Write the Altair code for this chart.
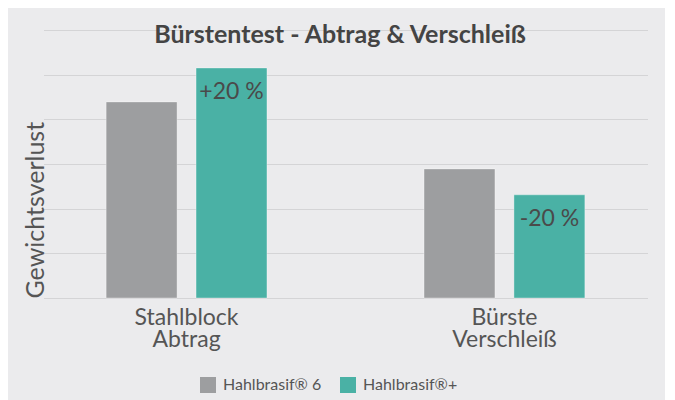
import altair as alt
import pandas as pd

categories = ["Stahlblock\nAbtrag", "Bürste\nVerschleiß"]
series = ["Hahlbrasif® 6", "Hahlbrasif®+"]
values_h6 = [4.39, 2.89]
values_plus = [5.15, 2.31]
change_labels = ["+20 %", "-20 %"]

rows = []
for i, c in enumerate(categories):
    rows.append({"cat": c, "series": series[0], "value": values_h6[i], "lbl": ""})
    rows.append({"cat": c, "series": series[1], "value": values_plus[i], "lbl": change_labels[i]})
df = pd.DataFrame(rows)

FONT = "Lato"
W = 604

x = alt.X(
    "cat:N",
    sort=categories,
    title=None,
    scale=alt.Scale(paddingInner=0.494, paddingOuter=0.197, range=[-8.5, W - 8.5]),
    axis=alt.Axis(
        domain=False, ticks=False, grid=False, labelAngle=0,
        labelExpr="split(datum.label, '\\n')",
        labelFontSize=23, labelColor="#555555", labelFont=FONT,
        labelLineHeight=22, labelPadding=8,
        labelBaseline="top",
    ),
)
xo = alt.XOffset("series:N", sort=series, scale=alt.Scale(paddingInner=0.211, paddingOuter=0))
y = alt.Y(
    "value:Q",
    scale=alt.Scale(domain=[0, 6], nice=False),
    axis=alt.Axis(
        values=[0, 1, 2, 3, 4, 5, 6], labels=False, ticks=False, domain=False,
        grid=True, gridColor="#d4d4d6", gridWidth=1.2,
        title="Gewichtsverlust", titleFontSize=25, titleFont=FONT,
        titleFontWeight="normal", titleColor="#555555",
        titleAnchor="start", titlePadding=4,
    ),
)

bars = alt.Chart(df).mark_bar(
    stroke="white", strokeOpacity=0.35, strokeWidth=1
).encode(
    x=x, xOffset=xo, y=y,
    color=alt.Color(
        "series:N", sort=series,
        scale=alt.Scale(domain=series, range=["#9d9ea0", "#4ab1a5"]),
        legend=alt.Legend(
            title=None, orient="none", direction="horizontal",
            legendX=148, legendY=347, symbolType="square", symbolSize=256,
            symbolStrokeWidth=0, labelFontSize=16, labelFont=FONT,
            labelColor="#555555", columnPadding=18, labelOffset=7,
            padding=0, symbolOffset=0,
        ),
    ),
)

texts = alt.Chart(df).mark_text(
    dy=24, baseline="middle", align="center",
    fontSize=23, font=FONT, color="#4a4a4a"
).encode(x=x, xOffset=xo, y="value:Q", text="lbl:N")

chart = (
    alt.layer(bars, texts)
    .properties(
        width=W, height=268,
        autosize=alt.AutoSizeParams(type="none"),
        padding={"left": 44, "top": 22, "right": 9, "bottom": 110},
        background="#ebebed",
        title=alt.TitleParams(
            "Bürstentest - Abtrag & Verschleiß", fontSize=25, font=FONT,
            fontWeight="bold", color="#444444", offset=-18, anchor="middle",
            dx=-14,
        ),
    )
    .configure_view(stroke=None)
)

chart.save("out.html", embed_options={"renderer": "svg", "actions": False})
